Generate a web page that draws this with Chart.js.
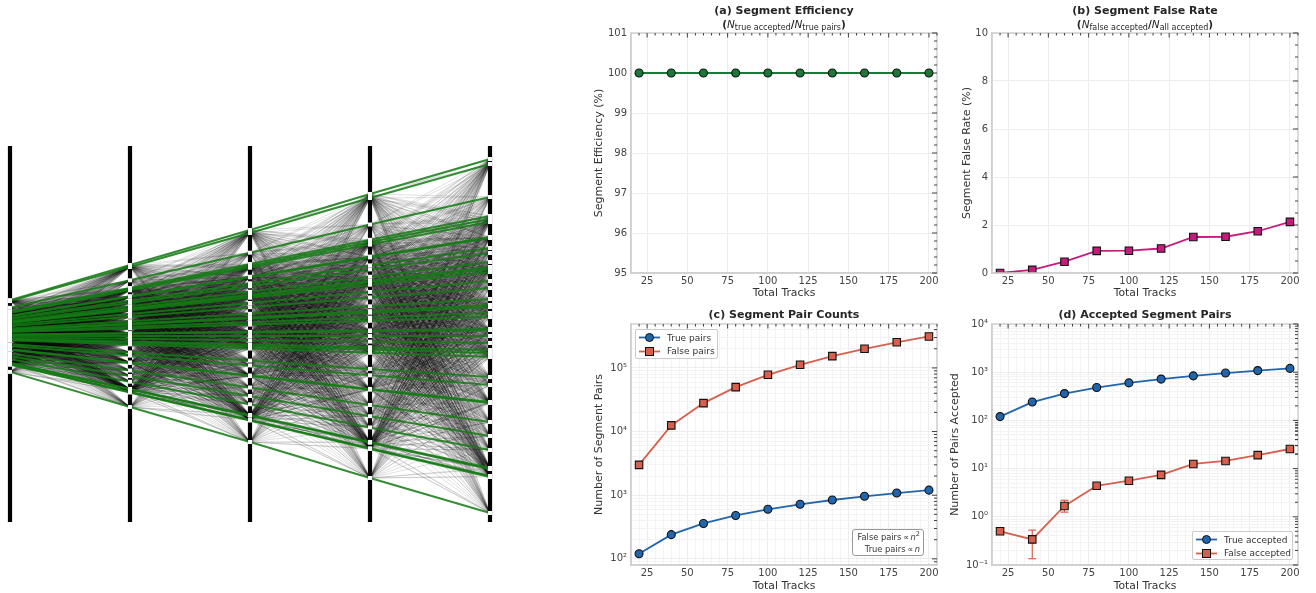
<!DOCTYPE html>
<html>
<head>
<meta charset="utf-8">
<title>Segment pair metrics</title>
<script src="https://cdn.jsdelivr.net/npm/chart.js@4/dist/chart.umd.js"></script>
<style>
    body { margin: 0; background: #fff; width: 1316px; height: 593px; overflow: hidden; position: relative; font-family: "DejaVu Sans", sans-serif; color: #333; }
    canvas { position: absolute; }
    .formula { position: absolute; text-align: center; font-size: 10.5px; font-weight: bold; line-height: 14px; color: #262626; white-space: nowrap; }
    .formula i { font-weight: normal; }
    .formula sub { font-size: 8px; font-weight: normal; line-height: 0; vertical-align: -2px; }
    .legend { position: absolute; background: rgba(255,255,255,0.85); border: 1px solid #ccc; border-radius: 2px; font-size: 9px; box-sizing: border-box; padding: 1px 0; }
    .legend div { display: flex; align-items: center; height: 13.5px; white-space: nowrap; }
    .legend svg { margin: 0 6px 0 2px; }
    .note { position: absolute; background: #fff; border: 1px solid #999; border-radius: 3px; font-size: 8.3px; line-height: 11.5px; text-align: right; box-sizing: border-box; padding: 2px 3px 2px 0; white-space: nowrap; }
    .note sup { font-size: 6.5px; line-height: 0; }
</style>
</head>
<body>
<canvas id="tracks" width="580" height="593" style="left:0;top:0"></canvas>
<canvas id="chartA" width="366" height="300" style="left:580px;top:0"></canvas>
<canvas id="chartB" width="375" height="300" style="left:941px;top:0"></canvas>
<canvas id="chartC" width="366" height="293" style="left:580px;top:300px"></canvas>
<canvas id="chartD" width="375" height="293" style="left:941px;top:300px"></canvas>

<div class="formula" style="left:631px;top:17px;width:306px">(<i>N</i><sub>true accepted</sub>/<i>N</i><sub>true pairs</sub>)</div>
<div class="formula" style="left:992px;top:17px;width:306px">(<i>N</i><sub>false accepted</sub>/<i>N</i><sub>all accepted</sub>)</div>
<div class="note" style="left:852px;top:529px;width:72px;height:27px">False pairs&#8201;&#8733;&#8201;<i>n</i><sup>2</sup><br>True pairs&#8201;&#8733;&#8201;<i>n</i></div>

<script>
Chart.defaults.font.family = '"DejaVu Sans", sans-serif';
Chart.defaults.font.size = 10;
Chart.defaults.color = '#444';
Chart.defaults.animation = false;

// Event display: hit heights on the five layers, same index = same true track
const layerIds = [1, 2, 3, 4, 5];
const layerExtent = [190, -186];
const hitsLayer1 = [35.9, 34.9, 28.2, 24.4, 23.8, 23.1, 20.1, 19.9, 17.9, 16.8, 15, 14, 13.6, 13, 11.2, 9.7, 7.5, 6.3, 5.9, 4.7, 3.9, 1.4, 1.2, 0, -1.4, -2.8, -3.5, -4.3, -8.3, -9.9, -13.4, -13.6, -17.5, -20.3, -23.1, -26.8, -27, -28.4, -28.6, -35.9];
const hitsLayer2 = [71, 69, 55.7, 48, 47, 45.7, 39.7, 39.3, 35.3, 33.3, 29.7, 27.7, 27, 25.7, 22, 19.2, 14.8, 12.4, 11.6, 9.2, 7.6, 2.8, 2.4, 0, -2.8, -5.6, -6.8, -8.4, -16.4, -19.6, -26.5, -26.9, -34.5, -40, -45.7, -53, -53.3, -56, -56.5, -71];
const hitsLayer3 = [106, 103, 83.3, 72, 70, 68.3, 59.3, 58.7, 52.7, 49.7, 44.3, 41.3, 40.1, 38.3, 33, 28.8, 22.2, 18.6, 17.4, 13.8, 11.4, 4.2, 3.6, 0, -4.2, -8.4, -10.2, -12.6, -24.6, -29.4, -39.5, -40.1, -51.5, -60, -68.3, -79, -79.7, -84, -84.5, -106];
const hitsLayer4 = [142, 138, 111.5, 96.2, 94, 91.4, 79.4, 78.6, 70.6, 66.6, 59.3, 55.3, 53.7, 51.3, 44.1, 38.5, 29.7, 24.9, 23.3, 18.4, 15.2, 5.6, 4.8, 0, -5.6, -11.2, -13.6, -16.8, -32.9, -39.3, -52.9, -53.7, -69, -80.2, -91.4, -105.9, -106.7, -112.3, -113, -142];
const hitsLayer5 = [177, 172, 139, 120, 117, 114, 99, 98, 88, 83, 74, 69, 67, 64, 55, 48, 37, 31, 29, 23, 19, 7, 6, 0, -7, -14, -17, -21, -41, -49, -66, -67, -86, -100, -114, -132, -133, -140, -141, -177];

// Metric panels
const totalTracks = [20, 40, 60, 80, 100, 120, 140, 160, 180, 200];
const segmentEfficiency = [100, 100, 100, 100, 100, 100, 100, 100, 100, 100];
const segmentFalseRate = [0, 0.13, 0.47, 0.92, 0.93, 1.02, 1.5, 1.51, 1.74, 2.13];
const truePairs = [120, 240, 360, 480, 600, 720, 840, 960, 1080, 1200];
const falsePairs = [3000, 12500, 28000, 50000, 78000, 112000, 153000, 200000, 253000, 312000];
const trueAccepted = [120, 240, 360, 480, 600, 720, 840, 960, 1080, 1200];
const falseAccepted = [0.5, 0.34, 1.68, 4.4, 5.6, 7.4, 12.5, 14.4, 19, 25.5];
const falseAcceptedLow = [0.5, 0.135, 1.25, 4.1, 5.2, 7.0, 11.8, 13.9, 18.4, 24.8];
const falseAcceptedHigh = [0.5, 0.53, 2.2, 4.7, 6.0, 7.8, 13.2, 14.9, 19.6, 26.2];

const xMajorTicks = [25, 50, 75, 100, 125, 150, 175, 200];
const xMinorTicks = [20, 30, 35, 40, 45, 55, 60, 65, 70, 80, 85, 90, 95, 105, 110, 115, 120, 130, 135, 140, 145, 155, 160, 165, 170, 180, 185, 190, 195, 205];
const countDecadesC = [100, 1000, 10000, 100000];
const countDecadesD = [0.1, 1, 10, 100, 1000, 10000];
const decadeLabels = { 0.1: '10\u207B\u00B9', 1: '10\u2070', 10: '10\u00B9', 100: '10\u00B2', 1000: '10\u00B3', 10000: '10\u2074', 100000: '10\u2075' };

const GREEN = '#1b7837';
const MAGENTA = '#c51b7d';
const BLUE = '#2166ac';
const RED = '#d6604d';

// Draws the box around the axes and the inward ticks on its top and right side
const framePlugin = {
    id: 'frame',
    afterDraw(chart, args, opts) {
        const { ctx, chartArea: a, scales } = chart;
        ctx.save();
        ctx.strokeStyle = '#cfcfcf';
        ctx.lineWidth = 1.5;
        ctx.strokeRect(a.left, a.top, a.right - a.left, a.bottom - a.top);
        ctx.strokeStyle = '#2a2a2a';
        ctx.lineWidth = 0.9;
        const mark = (x1, y1, x2, y2) => {
            ctx.beginPath();
            ctx.moveTo(x1, y1);
            ctx.lineTo(x2, y2);
            ctx.stroke();
        };
        xMajorTicks.forEach(v => { const x = scales.x.getPixelForValue(v); mark(x, a.top, x, a.top + 4.5); });
        xMinorTicks.forEach(v => { const x = scales.x.getPixelForValue(v); mark(x, a.top, x, a.top + 2.5); });
        opts.yMajor.forEach(v => { const y = scales.y.getPixelForValue(v); mark(a.right, y, a.right - 5, y); });
        opts.yMinor.forEach(v => { const y = scales.y.getPixelForValue(v); mark(a.right, y, a.right - 3, y); });
        ctx.restore();
    }
};

function toPoints(xs, ys) {
    return xs.map((x, i) => ({ x: x, y: ys[i] }));
}

function series(label, ys, color, pointStyle) {
    return {
        label: label,
        data: toPoints(totalTracks, ys),
        borderColor: color,
        borderWidth: 1.8,
        backgroundColor: color,
        pointStyle: pointStyle,
        pointRadius: pointStyle === 'rect' ? 5.3 : 4,
        pointBorderColor: '#111',
        pointBorderWidth: 1.1,
        pointBackgroundColor: color
    };
}

// Minor log ticks 2..9 inside each decade, only those inside the axis range
function logMinors(decades, min, max) {
    const out = [];
    decades.forEach(d => {
        [2, 3, 4, 5, 6, 7, 8, 9].forEach(m => {
            if (d * m > min && d * m < max) out.push(d * m);
        });
    });
    return out;
}

function panelOptions(cfg) {
    const isLog = cfg.yType === 'logarithmic';
    const xTicks = xMajorTicks.concat(cfg.minorGrid ? xMinorTicks : []);
    const yMinor = isLog ? logMinors([10].concat(cfg.yMajor), cfg.yMin, cfg.yMax) : cfg.yMinor;
    return {
        responsive: false,
        events: [],
        layout: { autoPadding: false, padding: { left: 0, right: cfg.rightPad, top: 0, bottom: 0 } },
        plugins: {
            legend: { display: false },
            tooltip: { enabled: false },
            title: {
                display: true,
                text: cfg.title,
                fullSize: false,
                color: '#262626',
                font: { size: 11, weight: 'bold' },
                padding: cfg.titlePad
            },
            frame: { yMajor: cfg.yMajor, yMinor: yMinor }
        },
        scales: {
            x: {
                type: 'linear',
                min: 15,
                max: 205,
                afterBuildTicks: scale => {
                    scale.ticks = xTicks.map(v => ({ value: v }));
                },
                afterFit: scale => { scale.height = cfg.xHeight; },
                ticks: {
                    autoSkip: false,
                    maxRotation: 0,
                    padding: 2,
                    callback: v => (xMajorTicks.includes(v) ? String(v) : '')
                },
                grid: {
                    drawTicks: false,
                    color: c => (xMajorTicks.includes(c.tick.value) ? '#ececec' : '#f3f3f3'),
                    lineWidth: 1
                },
                border: { color: '#cfcfcf', width: 1.5 },
                title: { display: true, text: 'Total Tracks', color: '#333', font: { size: 10.8 }, padding: { top: 0, bottom: 0 } }
            },
            y: {
                type: cfg.yType,
                min: cfg.yMin,
                max: cfg.yMax,
                afterBuildTicks: scale => {
                    scale.ticks = cfg.yMajor.concat(cfg.minorGrid ? yMinor : []).map(v => ({ value: v }));
                },
                afterFit: scale => { scale.width = 51; },
                ticks: {
                    autoSkip: false,
                    padding: 4,
                    callback: v => (isLog ? (decadeLabels[v] || '') : String(v))
                },
                grid: {
                    drawTicks: false,
                    color: c => (cfg.yMajor.includes(c.tick.value) ? '#ececec' : '#f3f3f3'),
                    lineWidth: 1
                },
                border: { color: '#cfcfcf', width: 1.5 },
                title: { display: true, text: cfg.yLabel, color: '#333', font: { size: 11 }, padding: { top: cfg.yLabelPad, bottom: 0 } }
            }
        }
    };
}

// Left picture: all candidate segments between layers, see-through true tracks over them
function drawEventDisplay() {
    const layers = [hitsLayer1, hitsLayer2, hitsLayer3, hitsLayer4, hitsLayer5];
    const datasets = [];

    layers.forEach((hits, i) => {
        datasets.push({
            data: hits.map(h => ({ x: layerIds[i], y: h })),
            showLine: false,
            pointStyle: 'rect',
            pointRadius: 2.8,
            pointBorderWidth: 0,
            pointBackgroundColor: '#fff'
        });
    });

    layerIds.forEach(id => {
        datasets.push({
            data: layerExtent.map(e => ({ x: id, y: e })),
            borderColor: '#000',
            borderWidth: 4.2,
            pointRadius: 0
        });
    });

    hitsLayer1.forEach((h, t) => {
        datasets.push({
            data: layers.map((hits, i) => ({ x: layerIds[i], y: hits[t] })),
            borderColor: 'rgba(20,125,20,0.85)',
            borderWidth: 2,
            pointRadius: 0
        });
    });

    for (let i = 0; i < layers.length - 1; i++) {
        layers[i].forEach(a => {
            layers[i + 1].forEach(b => {
                datasets.push({
                    data: [{ x: layerIds[i], y: a }, { x: layerIds[i + 1], y: b }],
                    borderColor: 'rgba(0,0,0,0.12)',
                    borderWidth: 1,
                    pointRadius: 0
                });
            });
        });
    }

    new Chart('tracks', {
        type: 'line',
        data: { datasets: datasets },
        options: {
            responsive: false,
            events: [],
            layout: { autoPadding: false, padding: 0 },
            plugins: { legend: { display: false }, tooltip: { enabled: false } },
            scales: {
                x: { type: 'linear', display: false, min: 0.9167, max: 5.75 },
                y: { type: 'linear', display: false, min: -257, max: 336 }
            }
        }
    });
}

// Small legend box, line with marker in front of each label
function addLegend(left, top, width, height, rows) {
    const box = document.createElement('div');
    box.className = 'legend';
    box.style.cssText = `left:${left}px;top:${top}px;width:${width}px;height:${height}px`;
    rows.forEach(r => {
        const marker = r.square
            ? `<rect x="7.5" y="2.5" width="8" height="8" fill="${r.color}" stroke="#111" stroke-width="1"/>`
            : `<circle cx="11.5" cy="6.5" r="4" fill="${r.color}" stroke="#111" stroke-width="1"/>`;
        const row = document.createElement('div');
        row.innerHTML = `<svg width="23" height="13"><line x1="1" y1="6.5" x2="22" y2="6.5" stroke="${r.color}" stroke-width="1.8"/>${marker}</svg>${r.label}`;
        box.appendChild(row);
    });
    document.body.appendChild(box);
}

drawEventDisplay();

new Chart('chartA', {
    type: 'line',
    data: { datasets: [series('Segment Efficiency', segmentEfficiency, GREEN, 'circle')] },
    options: panelOptions({
        title: '(a) Segment Efficiency', titlePad: { top: 5, bottom: 14.8 }, rightPad: 9, xHeight: 27,
        yType: 'linear', yMin: 95, yMax: 101, yMajor: [95, 96, 97, 98, 99, 100, 101],
        yMinor: [95.2, 95.4, 95.6, 95.8, 96.2, 96.4, 96.6, 96.8, 97.2, 97.4, 97.6, 97.8, 98.2, 98.4, 98.6, 98.8, 99.2, 99.4, 99.6, 99.8, 100.2, 100.4, 100.6, 100.8],
        yLabel: 'Segment Efficiency (%)', yLabelPad: 12.7
    }),
    plugins: [framePlugin]
});

new Chart('chartB', {
    type: 'line',
    data: { datasets: [series('Segment False Rate', segmentFalseRate, MAGENTA, 'rect')] },
    options: panelOptions({
        title: '(b) Segment False Rate', titlePad: { top: 5, bottom: 14.8 }, rightPad: 18, xHeight: 27,
        yType: 'linear', yMin: 0, yMax: 10, yMajor: [0, 2, 4, 6, 8, 10],
        yMinor: [0.5, 1, 1.5, 2.5, 3, 3.5, 4.5, 5, 5.5, 6.5, 7, 7.5, 8.5, 9, 9.5],
        yLabel: 'Segment False Rate (%)', yLabelPad: 19.4
    }),
    plugins: [framePlugin]
});

new Chart('chartC', {
    type: 'line',
    data: {
        datasets: [
            series('True pairs', truePairs, BLUE, 'circle'),
            series('False pairs', falsePairs, RED, 'rect')
        ]
    },
    options: panelOptions({
        title: '(c) Segment Pair Counts', titlePad: { top: 9, bottom: 1.8 }, rightPad: 9, xHeight: 28,
        yType: 'logarithmic', yMin: 80, yMax: 490000, yMajor: countDecadesC,
        minorGrid: true, yLabel: 'Number of Segment Pairs', yLabelPad: 12.7
    }),
    plugins: [framePlugin]
});

new Chart('chartD', {
    type: 'line',
    data: {
        datasets: [
            series('True accepted', trueAccepted, BLUE, 'circle'),
            series('False accepted', falseAccepted, RED, 'rect')
        ].concat(totalTracks.map((x, i) => ({
            // vertical error bar, the flat point marks are its caps
            data: [{ x: x, y: falseAcceptedLow[i] }, { x: x, y: falseAcceptedHigh[i] }],
            borderColor: RED,
            borderWidth: 1.2,
            pointStyle: 'line',
            pointRadius: 4,
            pointBorderColor: RED,
            pointBorderWidth: 1.2
        })))
    },
    options: panelOptions({
        title: '(d) Accepted Segment Pairs', titlePad: { top: 9, bottom: 1.8 }, rightPad: 18, xHeight: 28,
        yType: 'logarithmic', yMin: 0.1, yMax: 10000, yMajor: countDecadesD,
        minorGrid: true, yLabel: 'Number of Pairs Accepted', yLabelPad: 7.7
    }),
    plugins: [framePlugin]
});

addLegend(635, 329, 83, 30, [
    { label: 'True pairs', color: BLUE },
    { label: 'False pairs', color: RED, square: true }
]);
addLegend(1192, 531, 101, 29, [
    { label: 'True accepted', color: BLUE },
    { label: 'False accepted', color: RED, square: true }
]);
</script>
</body>
</html>
